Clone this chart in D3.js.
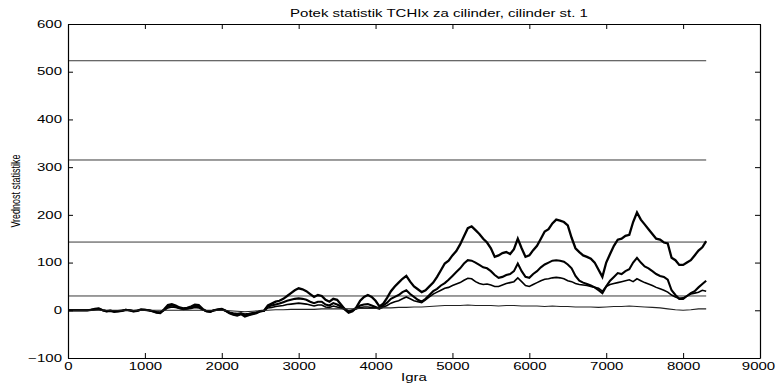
<!DOCTYPE html>
<html>
<head>
<meta charset="utf-8">
<script src="https://cdn.jsdelivr.net/npm/d3@7"></script>
<style>
  body { margin: 0; background: #fff; }
  text { font-family: "Liberation Sans", Arial, Helvetica, sans-serif; fill: #000; }
</style>
</head>
<body>
<div id="chart"></div>
<script>
// Chart texts
const chartTitle = "Potek statistik TCHIx za cilinder, cilinder st. 1";
const xLabel = "Igra";
const yLabel = "Vrednost statistike";

// Tick labels
const xTicks = [0, 1000, 2000, 3000, 4000, 5000, 6000, 7000, 8000, 9000];
const yTicks = [-100, 0, 100, 200, 300, 400, 500, 600];

// Control limits (horizontal lines)
const limits = [523, 315, 143, 30];
const lastGame = 8300;

// Game numbers for the series (every 50 games, and every 100 for the flat one)
const games50 = d3.range(0, lastGame + 1, 50);
const games100 = d3.range(0, lastGame + 1, 100);

// Series values
const seriesA = [0,0,0,0,0,0,1,3,4,0,-2,-1,-3,-2,-1,1,0,-2,-1,2,
  1,0,-2,-5,-6,2,11,13,10,6,4,5,8,12,11,3,-2,-3,0,2,
  3,-1,-6,-9,-11,-8,-13,-10,-8,-6,-2,-1,10,14,18,20,24,30,36,42,
  46,44,40,34,28,32,30,22,18,24,22,12,2,-5,-2,6,20,28,32,28,
  20,8,14,26,40,50,58,66,72,60,50,44,38,42,50,58,70,84,98,104,
  115,124,138,155,172,176,168,160,150,142,130,112,115,120,122,118,128,150,130,112,
  115,126,135,150,165,170,182,190,188,185,178,152,130,122,115,112,108,100,85,70,
  100,118,135,148,150,156,158,185,205,190,180,170,160,150,148,142,140,110,105,95,
  95,100,105,115,125,132,145];

const seriesB = [0,0,0,0,0,0,1,2,3,0,-2,-1,-2,-2,-1,1,0,-2,-1,1,
  1,0,-2,-4,-5,1,8,10,8,5,3,4,6,9,8,2,-2,-3,0,1,
  2,-1,-5,-8,-9,-7,-11,-9,-7,-5,-2,-1,8,10,12,14,17,20,22,24,
  25,24,22,18,15,18,18,12,10,15,12,8,3,-3,0,4,10,12,13,10,
  7,4,10,16,24,28,32,38,42,34,28,22,18,24,32,40,45,52,57,64,
  72,80,88,98,105,104,100,95,90,88,82,74,68,70,74,76,82,98,82,70,
  68,76,82,90,96,100,104,105,104,102,96,88,72,62,58,55,52,48,42,36,
  50,62,70,78,76,82,86,100,110,100,92,88,82,76,72,70,64,42,32,24,
  24,30,36,40,48,55,62];

const seriesC = [0,0,0,0,0,0,0,1,2,0,-1,-1,-2,-1,-1,0,0,-1,-1,1,
  0,0,-1,-3,-4,0,5,7,6,4,2,3,4,6,5,1,-2,-2,0,1,
  1,-1,-4,-6,-7,-6,-8,-7,-5,-4,-2,-1,5,6,8,9,10,12,13,14,
  15,14,13,11,9,11,11,7,6,9,7,5,2,-2,0,3,6,7,7,6,
  5,3,7,10,15,18,20,24,28,24,20,18,16,22,28,34,38,42,46,48,
  52,55,58,63,67,66,60,56,54,55,53,50,50,53,56,58,60,68,60,52,
  50,54,58,62,65,66,68,69,68,66,62,60,56,54,53,52,50,48,46,40,
  50,54,56,58,60,62,64,60,66,62,58,55,52,48,45,42,38,32,28,25,
  26,30,34,36,38,42,40];

const seriesD = [0,0,0,0,0,0,0,0,0,0,0,0,0,0,0,0,0,0,0,0,
  0,-1,-2,-3,-2,-1,0,1,1,2,2,2,2,3,3,3,3,3,4,4,
  4,5,5,6,6,7,7,8,9,10,10,10,11,10,10,10,9,10,10,9,
  9,9,8,9,8,8,7,7,7,6,7,8,8,9,8,7,6,5,3,1,
  0,1,3,3];

const series = [
  { xs: games50, ys: seriesA, width: 2.3, color: "#000" },
  { xs: games50, ys: seriesB, width: 2.1, color: "#000" },
  { xs: games50, ys: seriesC, width: 1.6, color: "#000" },
  { xs: games100, ys: seriesD, width: 1.1, color: "#222" }
];

const totalW = 776, totalH = 383;
const margin = { top: 24, right: 16, bottom: 25, left: 68 };
const width = totalW - margin.left - margin.right;
const height = totalH - margin.top - margin.bottom;
const stretch = 1.5; // the picture's text is drawn wide

const svg = d3.select("#chart").append("svg")
  .attr("width", totalW)
  .attr("height", totalH);

const g = svg.append("g")
  .attr("transform", "translate(" + margin.left + "," + margin.top + ")");

const x = d3.scaleLinear().domain([0, 9000]).range([0, width]);
const y = d3.scaleLinear().domain([-100, 600]).range([height, 0]);

// Control limit lines
g.selectAll(".limit")
  .data(limits)
  .enter().append("line")
  .attr("class", "limit")
  .attr("x1", x(0))
  .attr("x2", x(lastGame))
  .attr("y1", d => y(d))
  .attr("y2", d => y(d))
  .style("stroke", "#3a3a3a")
  .style("stroke-width", 1);

// Series
const line = d3.line()
  .x(d => x(d[0]))
  .y(d => y(d[1]));

g.selectAll(".series")
  .data(series)
  .enter().append("path")
  .attr("class", "series")
  .attr("d", s => line(s.xs.map((v, i) => [v, s.ys[i]])))
  .style("fill", "none")
  .style("stroke", s => s.color)
  .style("stroke-width", s => s.width)
  .style("stroke-linejoin", "miter");

// Axes, ticks point inward, box on all sides
const fmt = d3.format("d");
const xAxis = g.append("g")
  .attr("transform", "translate(0," + height + ")")
  .call(d3.axisBottom(x).tickValues(xTicks).tickFormat(fmt).tickSizeInner(-5).tickSizeOuter(0).tickPadding(5));
const yAxis = g.append("g")
  .call(d3.axisLeft(y).tickValues(yTicks).tickFormat(fmt).tickSizeInner(-5).tickSizeOuter(0).tickPadding(6));
g.append("g")
  .call(d3.axisTop(x).tickValues(xTicks).tickSizeInner(-5).tickSizeOuter(0).tickFormat(""));
g.append("g")
  .attr("transform", "translate(" + width + ",0)")
  .call(d3.axisRight(y).tickValues(yTicks).tickSizeInner(-5).tickSizeOuter(0).tickFormat(""));

g.selectAll(".domain").style("stroke", "#000").style("stroke-width", 1.2);
g.selectAll(".tick line").style("stroke", "#000");

xAxis.selectAll("text")
  .style("font-size", "10px")
  .attr("x", d => d === 9000 ? -2 / stretch : 0)
  .attr("transform", "scale(" + stretch + ",1)");
yAxis.selectAll("text")
  .style("font-size", "10px")
  .attr("x", -6 / stretch)
  .attr("transform", "scale(" + stretch + ",1)");

// Title and axis labels
svg.append("text")
  .attr("transform", "translate(439,17) scale(" + stretch + ",1)")
  .attr("text-anchor", "middle")
  .style("font-size", "10px")
  .text(chartTitle);

svg.append("text")
  .attr("transform", "translate(414,381) scale(" + stretch + ",1)")
  .attr("text-anchor", "middle")
  .style("font-size", "10px")
  .text(xLabel);

svg.append("text")
  .attr("transform", "translate(20,191) scale(" + stretch + ",1) rotate(-90)")
  .attr("text-anchor", "middle")
  .style("font-size", "9px")
  .text(yLabel);
</script>
</body>
</html>
